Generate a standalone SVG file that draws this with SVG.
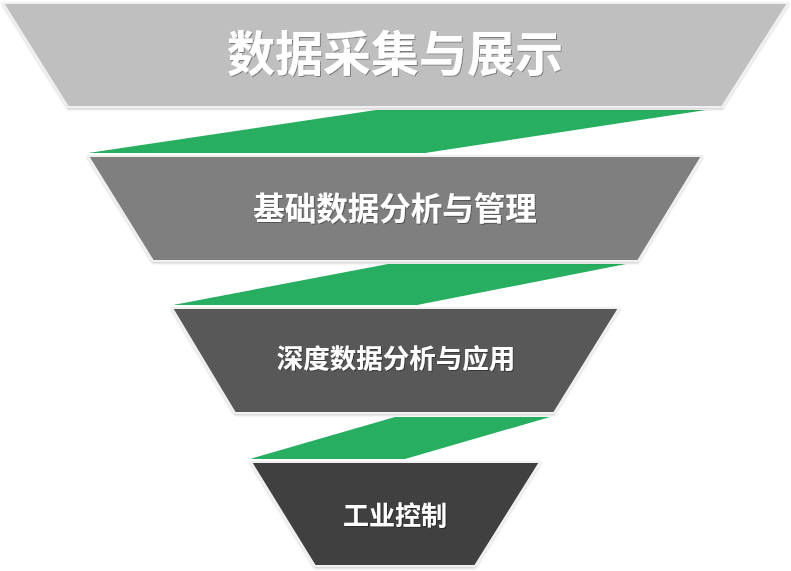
<svg xmlns="http://www.w3.org/2000/svg" width="791" height="571" viewBox="0 0 791 571">
<defs>
<filter id="sh" x="-5%" y="-5%" width="110%" height="115%">
<feDropShadow dx="0" dy="1.5" stdDeviation="1.2" flood-color="#000" flood-opacity="0.18"/>
</filter>
<filter id="tsh" x="-5%" y="-20%" width="110%" height="140%">
<feDropShadow dx="1" dy="1" stdDeviation="0.6" flood-color="#000" flood-opacity="0.35"/>
</filter>
</defs>
<style>
.tr{stroke:#f0f0f0;stroke-width:2;stroke-linejoin:miter;filter:url(#sh)}
.band{fill:#27ae60}
.lbl{font-family:"Noto Sans CJK SC","Noto Sans",sans-serif;font-weight:bold;fill:#ffffff;text-anchor:middle;dominant-baseline:central;filter:url(#tsh)}
</style>
<rect width="791" height="571" fill="#ffffff"/>
<g id="connectors">
<polygon class="band" points="376,110 706,110 425,153 88,153"/>
<polygon class="band" points="388,264 626,264 417,305 173,305"/>
<polygon class="band" points="395,417 550,417 405,459 250,459"/>
</g>
<g id="level1">
<polygon class="tr" fill="#bfbfbf" points="3,3 788,3 722,107 68,107"/>
<text class="lbl" x="395" y="50" font-size="48">数据采集与展示</text>
</g>
<g id="level2">
<polygon class="tr" fill="#7f7f7f" points="88,156 702,156 638,261 153,261"/>
<text class="lbl" x="395" y="206" font-size="31.5">基础数据分析与管理</text>
</g>
<g id="level3">
<polygon class="tr" fill="#595959" points="172,308 619,308 554,413 235,413"/>
<text class="lbl" x="396" y="356" font-size="26.5">深度数据分析与应用</text>
</g>
<g id="level4">
<polygon class="tr" fill="#3f3f3f" points="251,462 540,462 475,566 315,566"/>
<text class="lbl" x="395" y="513" font-size="26">工业控制</text>
</g>
</svg>
